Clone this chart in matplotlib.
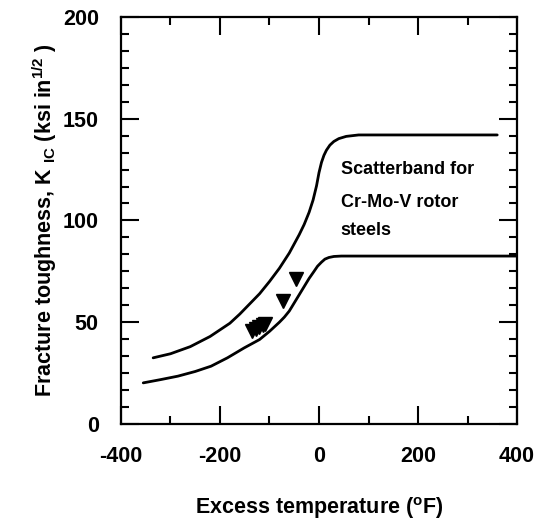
import matplotlib
matplotlib.use("Agg")
import matplotlib.pyplot as plt
from matplotlib.ticker import MultipleLocator

plt.rcParams['font.family'] = ['Liberation Sans', 'DejaVu Sans']
plt.rcParams['font.weight'] = 'bold'
plt.rcParams['mathtext.default'] = 'regular'
plt.rcParams['axes.unicode_minus'] = False

# Upper bound of scatterband
upper_x = [-335, -300, -260, -220, -180, -160, -140, -120, -100, -80, -60, -40, -30, -20, -12, -5,
           0, 5, 10, 15, 22, 30, 40, 55, 80, 120, 360]
upper_y = [32.5, 34.5, 38, 43, 49.5, 54, 59, 64, 70, 76.5, 84, 93, 98, 104, 110, 117,
           123.5, 128.5, 132, 134.5, 137, 138.8, 140.2, 141.3, 142, 142, 142]

# Lower bound of scatterband
lower_x = [-355, -320, -285, -250, -218, -185, -151, -120, -100, -80, -70, -60, -50, -40, -30, -20,
           -10, -3, 5, 12, 20, 30, 45, 70, 120, 400]
lower_y = [20.2, 21.8, 23.5, 25.8, 28.4, 32.5, 37.4, 41.5, 45.5, 50, 52.5, 55.5, 59.5, 63.5, 67.5, 71.5,
           75, 77.5, 79.5, 81, 81.8, 82.3, 82.5, 82.5, 82.5, 82.5]

# Data points (triangles)
pts_x = [-135, -128, -121, -114, -109, -73, -47]
pts_y = [45.5, 46.5, 47.5, 48.5, 49, 60.3, 71]

x_ticks = [-400, -200, 0, 200, 400]
y_ticks = [0, 50, 100, 150, 200]
note_lines = ["Scatterband for", "Cr-Mo-V rotor", "steels"]
note_y = [125, 109, 95]

fig = plt.figure(figsize=(5.44, 5.28), dpi=100)
ax = fig.add_axes([0.2224, 0.197, 0.728, 0.771])

ax.plot(upper_x, upper_y, color='black', lw=2.0, solid_capstyle='round', solid_joinstyle='round')
ax.plot(lower_x, lower_y, color='black', lw=2.0, solid_capstyle='round', solid_joinstyle='round')
ax.plot(pts_x, pts_y, linestyle='none', marker='v', color='black', markersize=9.5)

for line, yy in zip(note_lines, note_y):
    ax.text(44, yy, line, fontsize=13, ha='left', va='center', fontweight='bold')

ax.set_xlim(-400, 400)
ax.set_ylim(0, 200)
ax.set_xticks(x_ticks)
ax.set_yticks(y_ticks)
ax.xaxis.set_minor_locator(MultipleLocator(100))
ax.yaxis.set_minor_locator(MultipleLocator(50 / 6))

ax.tick_params(which='both', direction='in', top=True, right=True, width=1.5, labelsize=15.5, pad=16)
ax.tick_params(which='major', length=13)
ax.tick_params(which='minor', length=6)
for s in ax.spines.values():
    s.set_linewidth(1.6)

ax.set_xlabel(r'Excess temperature ($^{o}$F)', fontsize=15.5, fontweight='bold', labelpad=20)
ax.set_ylabel(r'Fracture toughness, K $_{IC}$ (ksi in$^{1/2}$ )', fontsize=15.5, fontweight='bold', labelpad=3)

fig.savefig('out.png', dpi=100)
